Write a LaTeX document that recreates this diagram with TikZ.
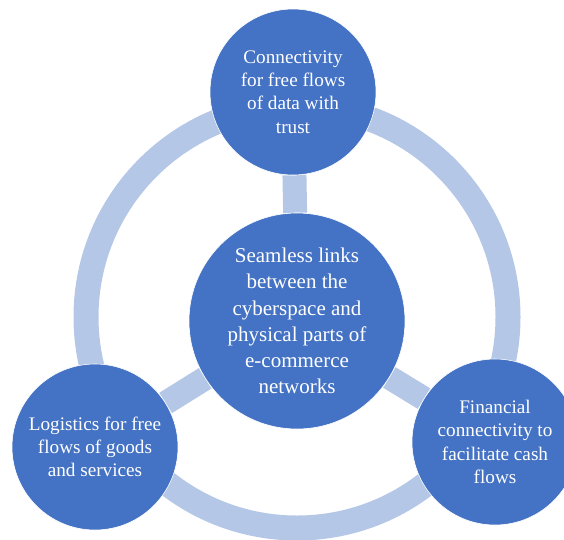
\documentclass[tikz,border=0pt]{standalone}
\usepackage{fontspec}
\setmainfont{Liberation Serif}
\usepackage{tikz}
\usetikzlibrary{positioning, backgrounds}
\usepackage{xcolor}

\definecolor{discblue}{HTML}{4472C4}
\definecolor{ringblue}{HTML}{B4C7E7}

\begin{document}
\begin{tikzpicture}[x=1pt, y=-1pt,
      disc/.style={circle, fill=discblue, draw=white, line width=0.6pt,
        inner sep=0pt, text=white, align=center},
      hubdisc/.style={disc, minimum size=216pt,
        font=\fontsize{21}{26.3}\selectfont},
      outerdisc/.style={disc, minimum size=166pt,
        font=\fontsize{19.2}{23.3}\selectfont},
      link/.style={draw=ringblue, line width=24pt}
    ]
      \useasboundingbox (0,0) rectangle (564,539);

      % centre and the three outer discs
      \node[hubdisc] (hub) at (297,321) {Seamless links\\between the\\cyberspace and\\physical parts of\\e-commerce\\networks};
      \node[outerdisc] (data) at (293,92) {Connectivity\\for free flows\\of data with\\trust};
      \node[outerdisc] (goods) at (95,447) {Logistics for free\\flows of goods\\and services};
      \node[outerdisc] (cash) at (495,442) {Financial\\connectivity to\\facilitate cash\\flows};

      % ring and spokes behind the discs
      \begin{scope}[on background layer]
        \draw[link, line width=25pt] (297,317) circle (211);
        \draw[link] (hub) -- (data);
        \draw[link] (hub) -- (goods);
        \draw[link] (hub) -- (cash);
      \end{scope}
    \end{tikzpicture}
\end{document}
